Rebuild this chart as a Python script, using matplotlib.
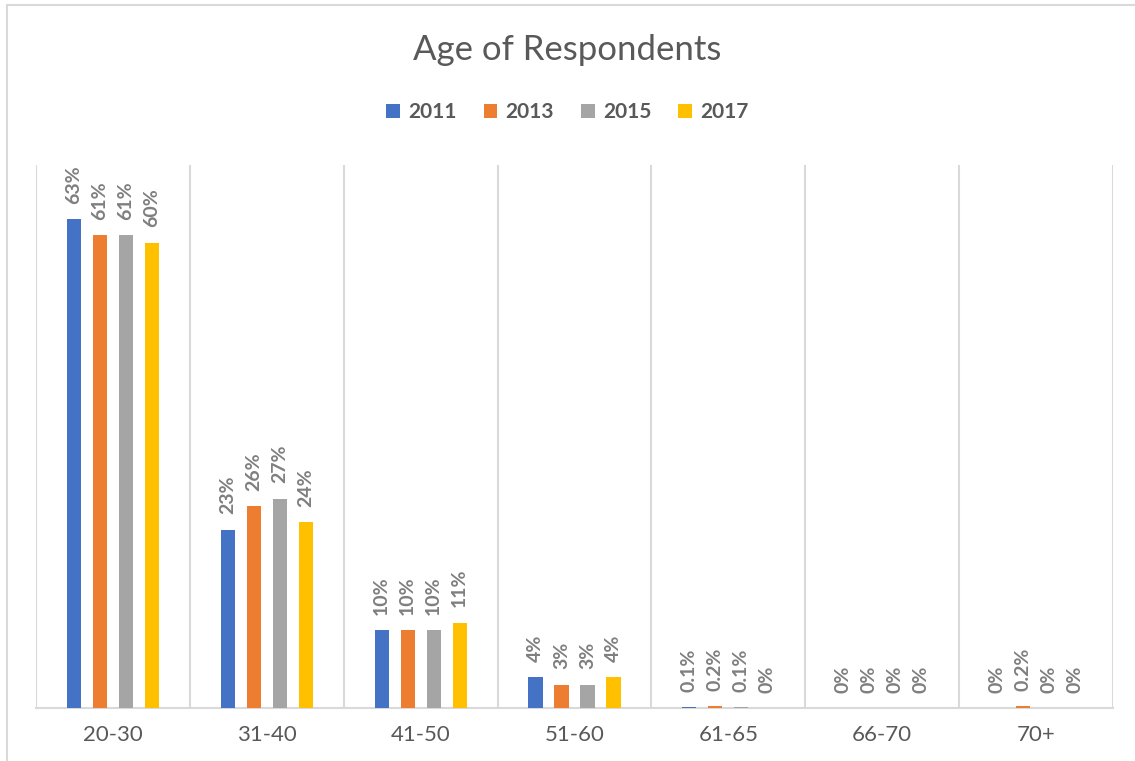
import numpy as np
import matplotlib
matplotlib.use("Agg")
import matplotlib.pyplot as plt
from matplotlib.patches import Rectangle

# data (fractions)
categories = ["20-30", "31-40", "41-50", "51-60", "61-65", "66-70", "70+"]
years = ["2011", "2013", "2015", "2017"]
v2011 = [0.63, 0.23, 0.10, 0.04, 0.001, 0.0, 0.0]
v2013 = [0.61, 0.26, 0.10, 0.03, 0.002, 0.0, 0.002]
v2015 = [0.61, 0.27, 0.10, 0.03, 0.001, 0.0, 0.0]
v2017 = [0.60, 0.24, 0.11, 0.04, 0.0, 0.0, 0.0]
series = [v2011, v2013, v2015, v2017]
colors = ["#4472C4", "#ED7D31", "#A5A5A5", "#FFC000"]

txt = "#595959"
grid = "#D9D9D9"
plt.rcParams['font.family'] = ['Lato', 'DejaVu Sans']

fig = plt.figure(figsize=(11.35, 7.61), dpi=100)
# chart frame (cropped on right/bottom in the reference)
fig.patches.append(Rectangle((7/1135, -0.1), 1.2, 1 - 5/761 + 0.1,
                             transform=fig.transFigure, fill=False,
                             edgecolor=grid, lw=1.5))

ax = fig.add_axes([36/1135, 1 - 708/761, (1113 - 36)/1135, (708 - 165)/761])
x = np.arange(len(categories))
step = 0.169
width = 0.092
for i, (vals, c, yr) in enumerate(zip(series, colors, years)):
    pos = x + (i - 1.5) * step
    ax.bar(pos, vals, width=width, color=c, label=yr, zorder=3)
    for p, v in zip(pos, vals):
        if v == 0 or v >= 0.01:
            lab = "{:.0%}".format(v)
        else:
            lab = "{:.1%}".format(v)
        ax.annotate(lab, (p, v), xytext=(0, 11), textcoords="offset points",
                    rotation=90, ha="center", va="bottom", fontsize=14,
                    fontweight="bold", color="#7F7F7F")

ax.set_xlim(-0.5, len(categories) - 0.5)
ax.set_ylim(0, 0.70)
for b in np.arange(-0.5, len(categories) + 0.5, 1):
    ax.axvline(b, color=grid, lw=1.5, zorder=1)
for s in ["top", "right", "left"]:
    ax.spines[s].set_visible(False)
ax.spines["bottom"].set_color(grid)
ax.spines["bottom"].set_linewidth(1.5)
ax.set_yticks([])
ax.set_xticks(x)
ax.set_xticklabels(categories, fontsize=16, color=txt)
ax.tick_params(axis="x", length=0, pad=12)

fig.text(0.5, 1 - 50/761, "Age of Respondents", ha="center", va="center",
         fontsize=25, color=txt)
leg = fig.legend(loc="center", bbox_to_anchor=(0.5, 1 - 112/761), ncol=4,
                 frameon=False, handlelength=0.65, handleheight=0.65,
                 handletextpad=0.4, columnspacing=1.3,
                 prop={"size": 15, "weight": "bold"})
for t in leg.get_texts():
    t.set_color(txt)

fig.savefig("out.png", dpi=100)
